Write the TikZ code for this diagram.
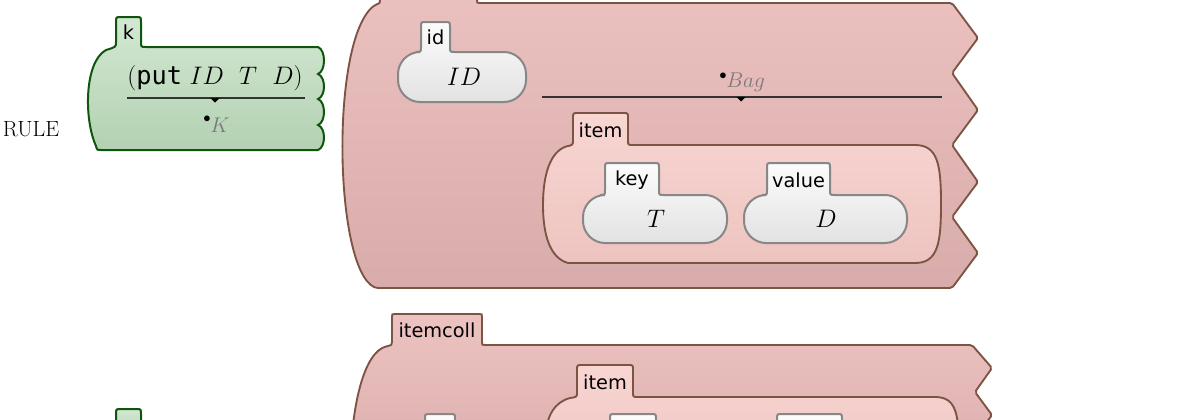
\RequirePackage{fix-cm}
\documentclass[tikz,border=0pt]{standalone}
\usepackage{fontspec}
\newfontfamily\lblfont{DejaVu Sans}
\newfontfamily\putfont{DejaVu Sans Mono}
\definecolor{gT}{HTML}{D3E8D2}
\definecolor{gB}{HTML}{B3D1B2}
\definecolor{gE}{HTML}{0E560E}
\definecolor{pT}{HTML}{EDC3C2}
\definecolor{pB}{HTML}{D8ACAA}
\definecolor{pE}{HTML}{7D5343}
\definecolor{iT}{HTML}{F8D6D2}
\definecolor{iB}{HTML}{EDC3BF}
\definecolor{wT}{HTML}{FCFCFC}
\definecolor{wB}{HTML}{E2E2E2}
\definecolor{wE}{HTML}{878787}
\definecolor{grayTxt}{HTML}{7A7A7A}
\tikzset{
  greencell/.style={draw=gE, line width=1.5pt, top color=gT, bottom color=gB},
  pinkcell/.style={draw=pE, line width=1.4pt, top color=pT, bottom color=pB, rounded corners=1.5pt},
  itemcell/.style={draw=pE, line width=1.4pt, top color=iT, bottom color=iB},
  graycell/.style={draw=wE, line width=1.5pt, top color=wT, bottom color=wB},
  lbl/.style={font=\lblfont\fontsize{14.5}{17}\selectfont, inner sep=0pt},
  mth/.style={font=\fontsize{19}{23}\selectfont, inner sep=0pt},
  sub/.style={font=\fontsize{16}{19}\selectfont, inner sep=0pt, text=grayTxt},
  ruleline/.style={draw=black!80, line width=0.9pt},
  tip/.style={fill=black},
  dotmark/.style={inner sep=0pt, font=\fontsize{11}{13}\selectfont},
}
\newcommand\gcell[7]{% tabl, tabr, tabtop, bodytop, xl, xr, bottom
  \draw[graycell] (#1,#4-5) -- (#1,#3+5) .. controls (#1,#3) .. (#1+5,#3)
   -- (#2-5,#3) .. controls (#2,#3) .. (#2,#3+5)
   -- (#2,#4-5) .. controls (#2,#4) .. (#2+5,#4)
   -- (#6-22,#4) .. controls (#6-10,#4) and (#6,#4+10) .. (#6,#4+22)
   -- (#6,#7-22) .. controls (#6,#7-10) and (#6-10,#7) .. (#6-22,#7)
   -- (#5+22,#7) .. controls (#5+10,#7) and (#5,#7-10) .. (#5,#7-22)
   -- (#5,#4+22) .. controls (#5,#4+10) and (#5+10,#4) .. (#5+22,#4)
   -- (#1-5,#4) .. controls (#1,#4) .. (#1,#4-5) -- cycle;}
\begin{document}
\begin{tikzpicture}[x=0.75pt,y=-0.75pt]
\useasboundingbox (0,0) rectangle (1188,419);
\clip (0,0) rectangle (1188,419);

% ---------- RULE label
\node[font=\fontsize{16.5}{19}\selectfont, inner sep=0pt] (rule) at (31,129) {RULE};

% ---------- green k cell
\draw[greencell] (116,42) -- (116,22) .. controls (116,17) .. (121,17) -- (136,17) .. controls (141,17) .. (141,22)
  -- (141,42) .. controls (141,47) .. (146,47) -- (318,47)
  .. controls (326,50) and (326,71) .. (318,74)
  .. controls (326,77) and (326,96) .. (318,99)
  .. controls (326,102) and (326,122) .. (318,125)
  .. controls (326,128) and (326,147) .. (318,150)
  -- (101,150) .. controls (97,150) .. (96,146)
  .. controls (84,120) and (84,62) .. (106,50) .. controls (116,47) .. (116,42) -- cycle;
\node[lbl] (klbl) at (128.5,32) {k};
\node[mth] (putterm) at (215,78) {$(\hbox{\putfont put}\ ID\ \ T\ \ D)$};
\coordinate (gl1) at (127,98);
\coordinate (gl2) at (305,98);
\draw[ruleline] (gl1) -- (gl2);
\fill[tip] (210.5,98) -- (219.5,98) -- (215,102.5) -- cycle;
\node[dotmark] (kdot) at (207,119) {$\bullet$};
\node[sub, anchor=west] (kK) at (210,125) {$K$};

% ---------- big pink cell (top)
\draw[pinkcell] (477,-40) -- (477,-2) .. controls (477,3) .. (482,3) -- (952,3)
  -- (978,38) -- (952,73) -- (978,110) -- (952,145) -- (978,182) -- (952,217) -- (978,253) -- (952,288)
  -- (376,288) .. controls (334,268) and (330,40) .. (375,5) .. controls (380,3) .. (380,-2) -- (380,-40) -- cycle;

% id cell
\gcell{421}{450}{22}{52}{398}{526}{102}
\node[lbl] (idlbl) at (435.5,37) {id};
\node[mth] (idval) at (464,77) {$ID$};

% Bag
\coordinate (bl1) at (542,97);
\coordinate (bl2) at (942,97);
\draw[ruleline] (bl1) -- (bl2);
\fill[tip] (736.5,97) -- (745.5,97) -- (741,101.5) -- cycle;
\node[dotmark] (bagdot) at (723,76) {$\bullet$};
\node[sub, anchor=west] (bag) at (726,82) {$Bag$};

% item cell
\draw[itemcell] (573,140) -- (573,118) .. controls (573,113) .. (578,113) -- (623,113) .. controls (628,113) .. (628,118)
  -- (628,140) .. controls (628,145) .. (633,145) -- (915,145)
  .. controls (938,145) and (941,165) .. (941,204) .. controls (941,243) and (938,263) .. (915,263)
  -- (568,263) .. controls (550,258) and (543,235) .. (543,205) .. controls (543,175) and (550,152) .. (566,146.5)
  .. controls (573,145) .. (573,140) -- cycle;
\node[lbl] (itemlbl) at (600.5,130) {item};

% key / value
\gcell{605}{659}{163}{195}{583}{727}{243}
\node[lbl] (keylbl) at (632,180) {key};
\node[mth] (keyval) at (656,219) {$T$};
\gcell{767}{830}{163}{195}{744}{907}{243}
\node[lbl] (vallbl) at (798.5,180) {value};
\node[mth] (valval) at (826,219) {$D$};

% ---------- second rule (partially visible)
\draw[greencell] (116,440) -- (116,414) .. controls (116,409) .. (121,409) -- (136,409) .. controls (141,409) .. (141,414) -- (141,440) -- cycle;

\draw[pinkcell] (392,340) -- (392,319) .. controls (392,314) .. (397,314) -- (477,314) .. controls (482,314) .. (482,319)
  -- (482,340) .. controls (482,345) .. (487,345) -- (972,345)
  -- (992,368) -- (975,392) -- (992,415) -- (975,438) -- (975,480) -- (350,480)
  .. controls (350,420) and (360,360) .. (384,347) .. controls (392,345) .. (392,340) -- cycle;
\node[lbl] (collbl) at (437,330) {itemcoll};

\draw[itemcell] (577,392) -- (577,370) .. controls (577,365) .. (582,365) -- (628,365) .. controls (633,365) .. (633,370)
  -- (633,392) .. controls (633,397) .. (638,397) -- (935,397)
  .. controls (950,397) and (956,405) .. (958,425) -- (958,480) -- (545,480) -- (545,440)
  .. controls (546,415) and (555,402) .. (570,398) .. controls (577,397) .. (577,392) -- cycle;
\node[lbl] (item2lbl) at (605,382) {item};

\gcell{425}{455}{414}{446}{402}{530}{500}
\gcell{610}{656}{414}{446}{588}{730}{500}
\gcell{777}{842}{414}{446}{754}{915}{500}
\end{tikzpicture}
\end{document}
